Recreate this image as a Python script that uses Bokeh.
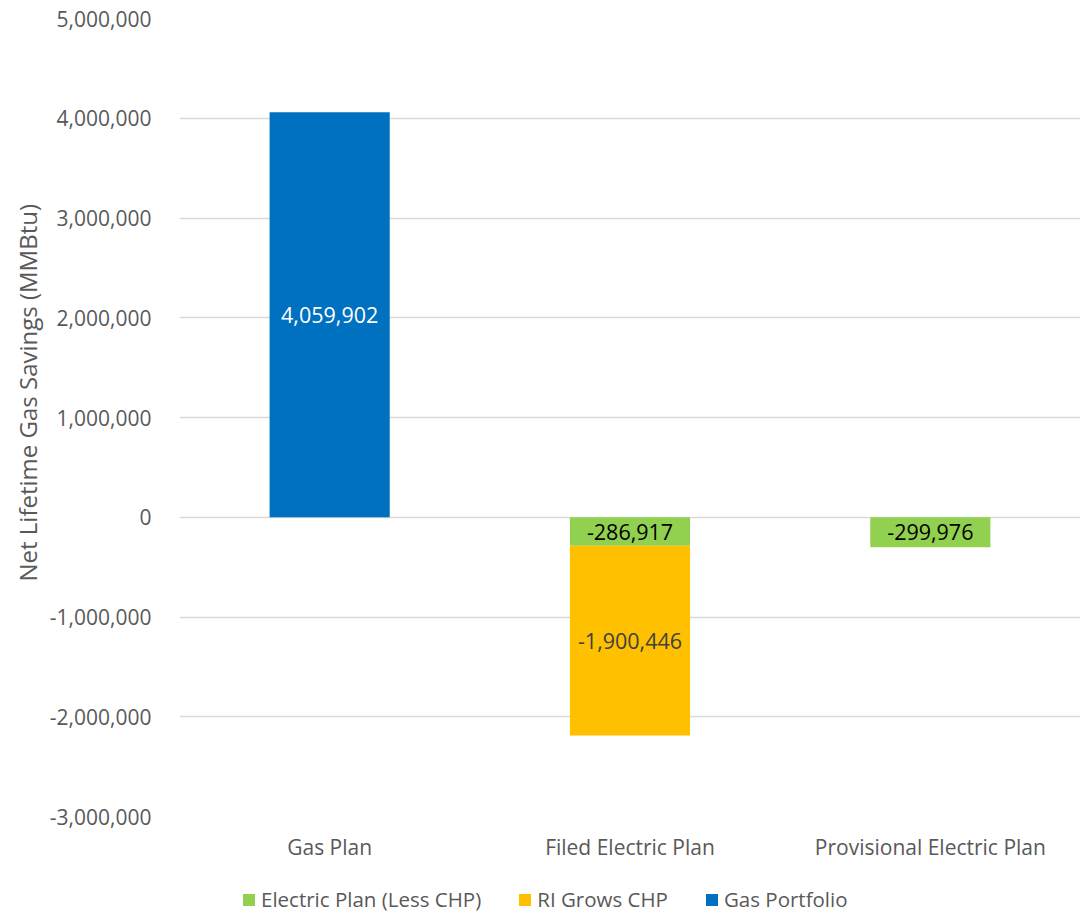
import numpy as np
from bokeh.plotting import figure
from bokeh.layouts import column
from bokeh.models import (ColumnDataSource, FactorRange, NumeralTickFormatter,
                          FixedTicker, Legend, LegendItem, Range1d, Title)
from bokeh.core.properties import value
from bokeh.embed import file_html
from bokeh.resources import INLINE

categories = ["Gas Plan", "Filed Electric Plan", "Provisional Electric Plan"]
series_names = ["Electric Plan (Less CHP)", "RI Grows CHP", "Gas Portfolio"]
electric_plan = [0, -286917, -299976]
ri_grows_chp = [0, -1900446, 0]
gas_portfolio = [4059902, 0, 0]
y_ticks = [-3000000, -2000000, -1000000, 0, 1000000, 2000000, 3000000, 4000000, 5000000]
y_title = "Net Lifetime Gas Savings (MMBtu)"
colors = ["#92D050", "#FFC000", "#0070C0"]
label_colors = ["#000000", "#404040", "#FFFFFF"]

FONT = "Open Sans"
GREY = "#595959"

src = ColumnDataSource(dict(cat=categories, ep=electric_plan, ri=ri_grows_chp, gp=gas_portfolio))

p = figure(x_range=FactorRange(*categories, range_padding=0), y_range=(-3000000, 5000000),
           width=1084, height=863, output_backend="svg", toolbar_location=None,
           min_border_left=179, min_border_right=4, min_border_top=18, min_border_bottom=46)
p.outline_line_color = None

renderers = p.vbar_stack(["ep", "ri", "gp"], x="cat", width=0.4, color=colors, source=src,
                         line_color=None)

# bar labels
vals = [electric_plan, ri_grows_chp, gas_portfolio]
cum = np.zeros(len(categories))
lx, ly, lt, lc = [], [], [], []
for s, v in enumerate(vals):
    v = np.array(v, dtype=float)
    for i, c in enumerate(categories):
        if v[i] != 0:
            lx.append(c)
            ly.append(cum[i] + v[i] / 2)
            lt.append(f"{int(v[i]):,}")
            lc.append(label_colors[s])
    cum = cum + v
lsrc = ColumnDataSource(dict(x=lx, y=ly, t=lt, c=lc))
p.text(x="x", y="y", text="t", text_color="c", source=lsrc, text_align="center",
       text_baseline="middle", text_font=value(FONT), text_font_size="21.5px")

# axes
p.yaxis.ticker = FixedTicker(ticks=y_ticks)
p.yaxis.formatter = NumeralTickFormatter(format="0,0")
for ax in (p.xaxis[0], p.yaxis[0]):
    ax.axis_line_color = None
    ax.major_tick_line_color = None
    ax.minor_tick_line_color = None
    ax.major_label_text_font = FONT
    ax.major_label_text_font_size = "21px"
    ax.major_label_text_color = GREY
p.yaxis.major_label_standoff = 22
p.xaxis.major_label_standoff = 10

yt = Title(text=y_title, align="left", offset=235, text_font=FONT, text_font_size="24px",
           text_color=GREY, text_font_style="normal", standoff=6)
p.add_layout(yt, "left")

p.xgrid.grid_line_color = None
p.ygrid.grid_line_color = "#D9D9D9"
p.ygrid.grid_line_width = 1.3
p.ygrid.ticker = FixedTicker(ticks=y_ticks)

# legend strip below the chart
lf = figure(width=1084, height=50, output_backend="svg", toolbar_location=None,
            x_range=Range1d(0, 1), y_range=Range1d(0, 1), x_axis_type=None, y_axis_type=None,
            min_border_left=0, min_border_right=0, min_border_top=0, min_border_bottom=0)
lf.outline_line_color = None
lf.grid.visible = False
offscreen = ColumnDataSource(dict(x=[-10], top=[-10]))
leg_r = [lf.vbar(x="x", top="top", width=0.1, color=c, line_color=None, source=offscreen)
         for c in colors]
legend = Legend(items=[LegendItem(label=n, renderers=[r]) for n, r in zip(series_names, leg_r)],
                orientation="horizontal", location=(62, 0))
legend.label_text_font = FONT
legend.label_text_font_size = "20.5px"
legend.label_text_color = GREY
legend.glyph_width = 15
legend.glyph_height = 15
legend.spacing = 36
legend.label_standoff = 5
legend.label_height = 20
legend.border_line_color = None
legend.background_fill_alpha = 0
legend.padding = 0
legend.margin = 0
lf.add_layout(legend, "center")

layout = column(p, lf, spacing=0)
open("out.html", "w").write(file_html(layout, INLINE))
